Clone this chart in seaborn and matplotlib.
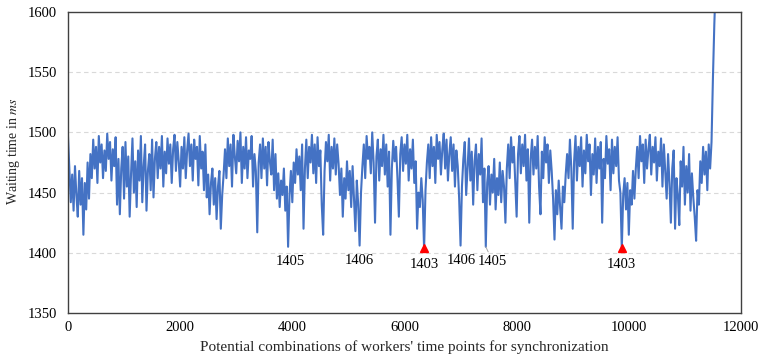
import numpy as np
import pandas as pd
import matplotlib
matplotlib.use("Agg")
import matplotlib.pyplot as plt
import seaborn as sns

# Waiting time (ms) for each candidate combination, sampled every 25 combinations
waiting_ms = [
    1497, 1470, 1442, 1465, 1435, 1472, 1448, 1430, 1468, 1440,
    1462, 1415, 1458, 1436, 1475, 1445, 1482, 1462, 1494, 1470,
    1488, 1458, 1497, 1475, 1490, 1462, 1485, 1468, 1499, 1478,
    1492, 1460, 1486, 1472, 1496, 1440, 1478, 1432, 1470, 1488,
    1445, 1492, 1455, 1480, 1430, 1466, 1495, 1450, 1476, 1438,
    1485, 1460, 1497, 1442, 1472, 1490, 1435, 1468, 1482, 1452,
    1494, 1446, 1478, 1492, 1462, 1488, 1470, 1497, 1455, 1484,
    1466, 1495, 1474, 1490, 1458, 1486, 1498, 1468, 1492, 1476,
    1455, 1488, 1470, 1496, 1462, 1485, 1499, 1472, 1490, 1460,
    1494, 1478, 1488, 1456, 1497, 1470, 1484, 1452, 1490, 1446,
    1465, 1432, 1458, 1470, 1440, 1462, 1428, 1455, 1468, 1420,
    1448, 1465, 1486, 1462, 1495, 1472, 1490, 1455, 1498, 1480,
    1466, 1493, 1476, 1500, 1458, 1488, 1470, 1496, 1462, 1485,
    1478, 1497, 1455, 1482, 1468, 1417, 1475, 1490, 1462, 1495,
    1470, 1488, 1456, 1492, 1476, 1465, 1494, 1452, 1482, 1445,
    1466, 1438, 1460, 1448, 1470, 1435, 1455, 1405, 1448, 1468,
    1442, 1475, 1458, 1486, 1465, 1480, 1452, 1490, 1420, 1470,
    1494, 1462, 1488, 1475, 1498, 1466, 1490, 1458, 1496, 1472,
    1485, 1440, 1415, 1468, 1492, 1476, 1498, 1460, 1488, 1470,
    1495, 1465, 1490, 1474, 1448, 1470, 1430, 1462, 1445, 1476,
    1452, 1468, 1438, 1472, 1446, 1418, 1460, 1440, 1406, 1450,
    1472, 1490, 1462, 1497, 1478, 1488, 1466, 1500, 1475, 1425,
    1480, 1494, 1460, 1486, 1472, 1498, 1465, 1490, 1455, 1484,
    1415, 1470, 1493, 1476, 1488, 1462, 1430, 1482, 1496, 1468,
    1490, 1474, 1498, 1460, 1486, 1470, 1494, 1458, 1476, 1420,
    1450, 1438, 1462, 1444, 1403, 1452, 1475, 1490, 1462, 1496,
    1472, 1488, 1458, 1498, 1478, 1492, 1465, 1486, 1499, 1470,
    1494, 1460, 1482, 1496, 1468, 1490, 1455, 1485, 1472, 1445,
    1406, 1455, 1478, 1492, 1448, 1470, 1495, 1460, 1484, 1440,
    1476, 1490, 1452, 1482, 1465, 1495, 1442, 1470, 1405, 1458,
    1472, 1440, 1465, 1450, 1478, 1436, 1462, 1448, 1475, 1442,
    1468, 1455, 1425, 1470, 1490, 1462, 1496, 1475, 1488, 1458,
    1430, 1482, 1497, 1466, 1490, 1472, 1498, 1460, 1486, 1425,
    1478, 1494, 1465, 1488, 1470, 1497, 1455, 1432, 1484, 1462,
    1496, 1475, 1490, 1458, 1485, 1468, 1445, 1411, 1452, 1432,
    1460, 1438, 1420, 1455, 1442, 1465, 1482, 1462, 1494, 1470,
    1420, 1476, 1497, 1460, 1488, 1472, 1496, 1455, 1485, 1466,
    1498, 1476, 1490, 1448, 1482, 1465, 1495, 1458, 1488, 1470,
    1492, 1425, 1478, 1462, 1497, 1474, 1486, 1452, 1494, 1466,
    1488, 1472, 1496, 1460, 1450, 1403, 1448, 1462, 1436, 1458,
    1415, 1452, 1440, 1468, 1445, 1470, 1488, 1462, 1497, 1476,
    1490, 1458, 1494, 1470, 1486, 1498, 1465, 1488, 1475, 1496,
    1460, 1484, 1472, 1495, 1455, 1490, 1468, 1445, 1482, 1458,
    1425, 1470, 1485, 1420, 1462, 1448, 1423, 1476, 1455, 1488,
    1440, 1472, 1450, 1482, 1435, 1466, 1446, 1430, 1410, 1452,
    1440, 1476, 1458, 1488, 1465, 1484, 1452, 1490, 1470, 1492,
    1545, 1590, 1625, 1650,
]
step = 25
combination = np.arange(len(waiting_ms)) * step

# Local minima that carry a value label (index into waiting_ms)
labelled_idx = [157, 208, 254, 280, 298, 395]
label_dx_px = [2, 0, 0, 1, 7, 0]

x_ticks = [0, 2000, 4000, 6000, 8000, 10000, 12000]
y_ticks = [1350, 1400, 1450, 1500, 1550, 1600]

df = pd.DataFrame({"combination": combination, "waiting": waiting_ms})

sns.set_theme(style="white")
plt.rcParams["font.family"] = ["Liberation Serif", "DejaVu Serif"]
plt.rcParams["mathtext.fontset"] = "stix"

fig = plt.figure(figsize=(7.62, 3.59), dpi=100)
ax = fig.add_axes([0.0892, 0.1281, 0.8832, 0.8385])

sns.lineplot(data=df, x="combination", y="waiting", ax=ax,
             color="#4472C4", linewidth=1.5)

ax.set_xlim(0, 12000)
ax.set_ylim(1350, 1600)
ax.set_xticks(x_ticks)
ax.set_yticks(y_ticks)
ax.tick_params(axis="both", labelsize=10.5, length=0, colors="black")
ax.tick_params(axis="y", pad=8)
ax.tick_params(axis="x", pad=6)

for v in [1400, 1450, 1500, 1550]:
    ax.axhline(v, color="#d9d9d9", lw=0.8, ls=(0, (4, 3)), zorder=0)

for s in ax.spines.values():
    s.set_color("#404040")
    s.set_linewidth(1.0)

ax.set_xlabel("Potential combinations of workers' time points for synchronization",
              fontsize=11, labelpad=4)
ax.set_ylabel(r"Waiting time in $\mathit{ms}$", fontsize=10)
ax.yaxis.set_label_coords(-0.068, 0.538)

min_val = min(waiting_ms)
for i, dx in zip(labelled_idx, label_dx_px):
    xv, yv = combination[i], waiting_ms[i]
    if yv == min_val:
        ax.plot(xv, yv + 1.2, marker="^", color="red", markersize=6, zorder=5)
    arrow = None
    if dx > 3:
        arrow = dict(arrowstyle="-", color="#a6a6a6", lw=0.7, shrinkA=0, shrinkB=0)
    ax.annotate(str(yv), xy=(xv, yv), xytext=(dx * 0.72, -6),
                textcoords="offset points", ha="center", va="top",
                fontsize=10.5, color="black", arrowprops=arrow)

fig.savefig("out.png", dpi=100)
